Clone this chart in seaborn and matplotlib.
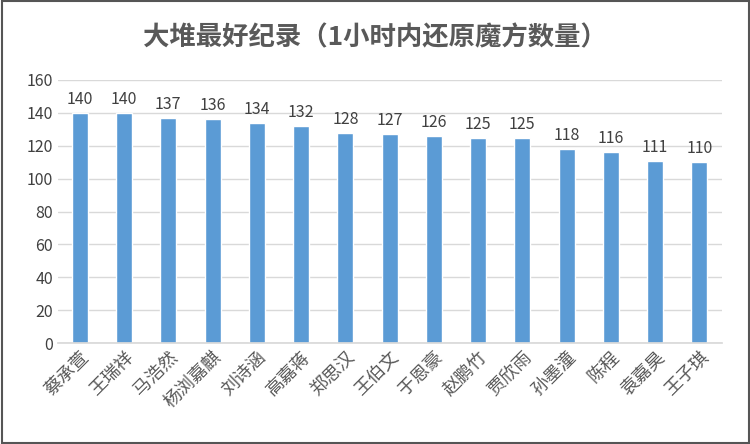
import matplotlib
matplotlib.use("Agg")
import matplotlib.pyplot as plt
import seaborn as sns
import pandas as pd

names = ["蔡承萱","王瑞祥","马浩然","杨浏嘉麒","刘诗涵","高嘉蒋","郑思汉","王伯文","于恩豪","赵鹏竹","贾欣雨","孙墨潼","陈程","袁嘉昊","王子琪"]
values = [140,140,137,136,134,132,128,127,126,125,125,118,116,111,110]
yticks = [0,20,40,60,80,100,120,140,160]

sns.set_theme(style="white")
plt.rcParams['font.family'] = ['Noto Sans CJK SC', 'DejaVu Sans']

fig = plt.figure(figsize=(7.5,4.44), dpi=100)
fig.patches.append(plt.Rectangle((0.002,0.002),0.996,0.996, transform=fig.transFigure, fill=False, edgecolor="#555555", linewidth=1.5))
ax = fig.add_axes([0.077, 0.227, 0.885, 0.593])
df = pd.DataFrame({"name": names, "v": values})
sns.barplot(data=df, x="name", y="v", color="#5b9bd5", saturation=1, width=0.36, ax=ax)
ax.set_ylim(0,160)
ax.set_yticks(yticks)
ax.yaxis.grid(True, color="#d9d9d9", linewidth=1)
ax.set_axisbelow(True)
for s in ["top","right","left"]:
    ax.spines[s].set_visible(False)
ax.spines["bottom"].set_color("#d9d9d9")
ax.set_xlabel(""); ax.set_ylabel("")
ax.tick_params(axis="y", labelsize=11.5, colors="#404040", length=0)
ax.tick_params(axis="x", labelsize=13, colors="#595959", length=0)
for lab in ax.get_xticklabels():
    lab.set_rotation(45); lab.set_ha("right"); lab.set_rotation_mode("anchor")
for i, v in enumerate(values):
    ax.text(i, v+3, str(v), ha="center", va="bottom", fontsize=11.5, color="#404040")
fig.text(0.5, 0.915, "大堆最好纪录（1小时内还原魔方数量）", ha="center", va="center", fontsize=19, fontweight="bold", color="#595959")
fig.savefig("out.png", dpi=100)
